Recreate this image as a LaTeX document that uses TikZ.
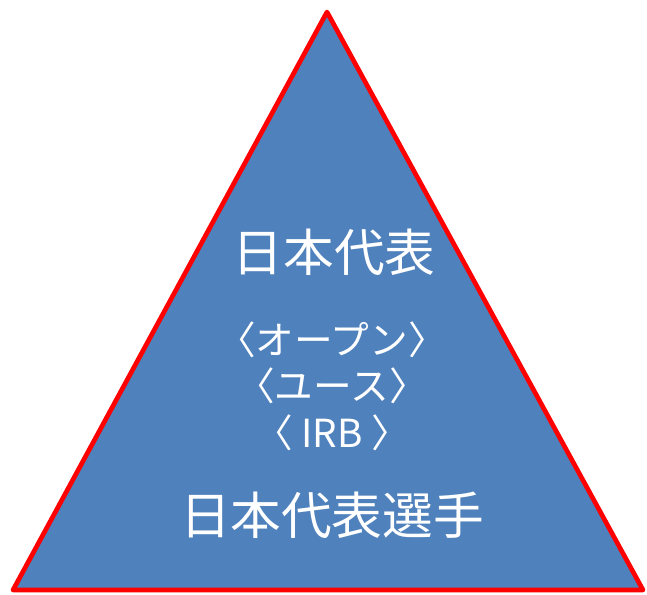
\documentclass[tikz,border=0pt]{standalone}
\usepackage{fontspec}
\setmainfont{Noto Sans CJK JP}
\usetikzlibrary{positioning}
\definecolor{pyrblue}{HTML}{4F81BD}
\tikzset{
         mytri/.style={draw=red, fill=pyrblue, line width=3.5pt, line join=round},
         mybig/.style={text=white, inner sep=0pt, font=\fontsize{38}{44}\selectfont},
         mysmall/.style={text=white, inner sep=0pt, align=center, font=\fontsize{29}{35}\selectfont}
      }
\begin{document}
\begin{tikzpicture}[x=0.75pt,y=-0.75pt]
  \useasboundingbox (0,0) rectangle (647,594);
  \coordinate (top) at (327,12);
  \coordinate (left) at (13,590);
  \coordinate (right) at (643,590);
  \draw[mytri] (top) -- (right) -- (left) -- cycle;
  \node[mybig] (team) at (334,252) {日本代表};
  \node[mysmall] (levels) at (332,386) {〈オープン〉\\〈ユース〉\\〈 IRB 〉};
  \node[mybig] (players) at (332,515) {日本代表選手};
\end{tikzpicture}
\end{document}
